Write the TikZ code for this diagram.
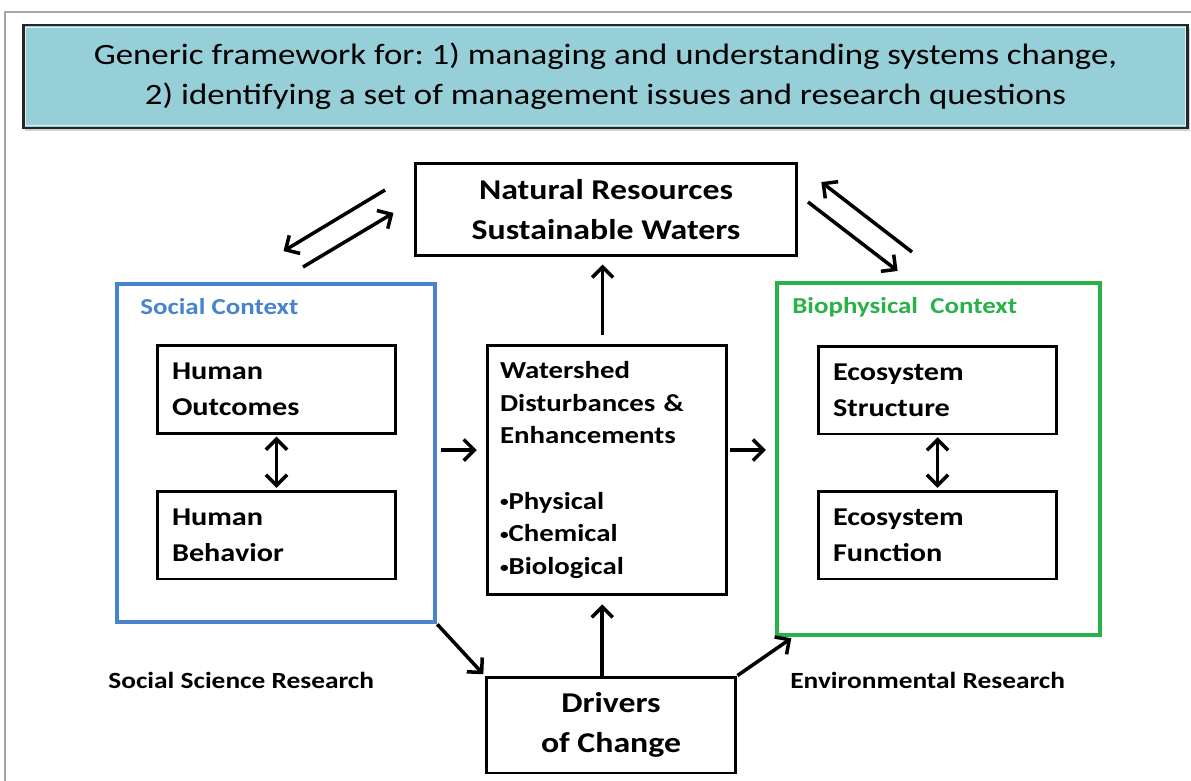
\documentclass[tikz,border=0pt]{standalone}
\usepackage{fontspec}
\setmainfont{Carlito}[FakeStretch=1.18]
\usetikzlibrary{arrows.meta,calc,shadows}
\frenchspacing
\definecolor{bannerteal}{RGB}{150,207,216}
\definecolor{socialblue}{RGB}{72,132,204}
\definecolor{biogreen}{RGB}{40,178,72}
\newcommand{\pallino}{\raisebox{0.1em}{\scalebox{0.6}{\textbullet}}}
\tikzset{
>={Straight Barb[length=6pt,width=12pt]},
inner box/.style={draw,line width=1.7pt,minimum width=4.78cm,minimum height=1.76cm,
  align=left,text width=4.18cm,inner xsep=0.3cm,font=\bfseries\fontsize{14.6}{20.4}\selectfont},
big box/.style={draw,line width=1.7pt,align=center,font=\bfseries\fontsize{16.3}{22.7}\selectfont},
context box/.style={draw=#1,line width=2.6pt,inner sep=0pt},
context label/.style={anchor=west,text=#1,inner sep=0pt,font=\bfseries\fontsize{13}{15}\selectfont},
research label/.style={anchor=west,inner sep=0pt,font=\bfseries\fontsize{13.2}{15}\selectfont},
freccia/.style={->,line width=2pt,shorten >=1pt}}

\begin{document}
\begin{tikzpicture}[x=0.02cm,y=-0.02cm]
\useasboundingbox (0,0) rectangle (1191,781);
\fill[white] (0,0) rectangle (1191,781);
\draw[gray!70,line width=0.6pt] (5,781) -- (5,12) -- (1191,12);

% banner
\node[draw=black!85,line width=1.6pt,fill=bannerteal,minimum width=23.3cm,minimum height=2.06cm,
  align=center,font=\fontsize{16.8}{22.7}\selectfont,
  drop shadow={shadow xshift=1pt,shadow yshift=-1.5pt,opacity=0.35}] (title) at (605.5,76.5)
  {Generic framework for: 1) managing and understanding systems change,\\
   2) identifying a set of management issues and research questions};
\draw[white!70!bannerteal,line width=0.8pt] ([shift={(4,4)}]title.north west) rectangle ([shift={(-4,-4)}]title.south east);

% main boxes
\node[big box,minimum width=7.64cm,minimum height=1.86cm] (nat) at (606,209.5)
  {Natural Resources\\Sustainable Waters};
\node[big box,minimum width=5cm,minimum height=1.92cm] (drv) at (611,725)
  {Drivers\\of Change};
\node[inner box,minimum width=4.8cm,minimum height=5cm,text width=4.28cm,inner xsep=0.26cm,
  font=\bfseries\fontsize{13.9}{18.6}\selectfont] (ws) at (607,470)
  {Watershed\\Disturbances \&\\Enhancements\\[18.6pt]%
   \pallino Physical\\\pallino Chemical\\\pallino Biological};

% social side
\node[context box=socialblue,minimum width=6.36cm,minimum height=6.76cm] (social) at (276,453) {};
\node[context label=socialblue] (soclab) at (140,307) {Social Context};
\node[inner box] (hout) at (276.5,389.5) {Human\\Outcomes};
\node[inner box] (hbeh) at (276.5,535) {Human\\Behavior};
\node[research label] (ssr) at (108,680) {Social Science Research};

% biophysical side
\node[context box=biogreen,minimum width=6.46cm,minimum height=7.04cm] (bio) at (938.5,459) {};
\node[context label=biogreen] (biolab) at (792,307) {Biophysical\ \ Context};
\node[inner box] (estr) at (937.5,390) {Ecosystem\\Structure};
\node[inner box] (efun) at (937.5,535) {Ecosystem\\Function};
\node[research label] (envr) at (790,680) {Environmental Research};

% links
\draw[freccia,<->,shorten <=1pt] (hout) -- (hbeh);
\draw[freccia,<->,shorten <=1pt] (estr) -- (efun);
\draw[freccia,shorten <=2pt,shorten >=5pt] ([yshift=1.7pt]social.east) -- ([yshift=1.7pt]social.east -| ws.west);
\draw[freccia,shorten <=1pt,shorten >=5pt] ([yshift=1.7pt]social.east -| ws.east) -- ([yshift=1.7pt]social.east -| bio.west);
\draw[freccia,shorten <=5pt,shorten >=4pt] ([xshift=-2.5pt]ws.north) -- ([xshift=-2.5pt]ws.north |- nat.south);
\draw[freccia,shorten >=4.5pt] ([xshift=-5pt]drv.north) -- ([xshift=-5pt]drv.north |- ws.south);
\draw[freccia] (social.south east) -- (drv.north west);
\draw[freccia] (drv.north east) -- ($(bio.south west)+(18,0)$);

% arrows to and from the natural resources
\coordinate (la) at (385,190);
\coordinate (lb) at (282,252);
\coordinate (lc) at (303,267);
\coordinate (ld) at (395,212);
\coordinate (ra) at (912,252);
\coordinate (rb) at (820,181);
\coordinate (rc) at (808,202);
\coordinate (rd) at (899,272);
\draw[freccia] (la) -- (lb);
\draw[freccia] (lc) -- (ld);
\draw[freccia] (ra) -- (rb);
\draw[freccia] (rc) -- (rd);

\end{tikzpicture}
\end{document}
